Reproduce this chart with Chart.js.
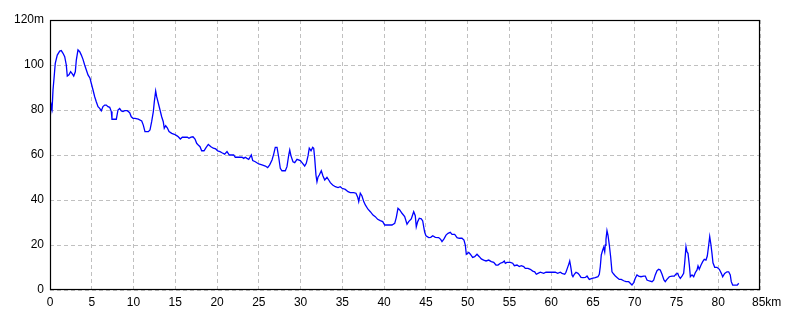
<!DOCTYPE html>
<html>
<head>
<meta charset="utf-8">
<script src="https://cdn.jsdelivr.net/npm/chart.js@4/dist/chart.umd.min.js"></script>
<style>
  html, body { margin: 0; padding: 0; background: #fff; }
  #wrap { width: 800px; height: 320px; }
</style>
</head>
<body>
<div id="wrap"><canvas id="myChart"></canvas></div>
<script>
// 거리 (km)
const distKm = [
  0, 0.16, 0.25, 0.36, 0.48, 0.63, 0.87, 1.16, 1.35, 1.56, 1.76, 1.95, 2.07, 2.27, 2.47, 2.63, 2.84, 3.03, 3.15, 3.35,
  3.56, 3.75, 3.95, 4.15, 4.35, 4.55, 4.79, 4.94, 5.15, 5.35, 5.54, 5.75, 5.95, 6.14, 6.34, 6.55, 6.74, 6.94, 7.15, 7.34,
  7.42, 7.94, 8.14, 8.34, 8.54, 8.74, 8.94, 9.25, 9.54, 9.73, 9.94, 10.18, 10.57, 10.98, 11.17, 11.37, 11.77, 11.97, 12.17, 12.37,
  12.49, 12.65, 12.77, 12.97, 13.17, 13.37, 13.56, 13.68, 13.85, 14.04, 14.25, 14.57, 14.88, 15.17, 15.36, 15.6, 15.84, 16.16, 16.44, 16.64,
  16.88, 17.12, 17.36, 17.56, 17.75, 17.96, 18.16, 18.44, 18.68, 18.95, 19.27, 19.55, 19.84, 20.08, 20.35, 20.59, 20.91, 21.19, 21.47, 21.99,
  22.18, 22.99, 23.19, 23.38, 23.58, 23.79, 24.1, 24.27, 24.58, 24.99, 25.38, 25.78, 26.06, 26.3, 26.58, 26.78, 26.97, 27.18, 27.38, 27.57,
  27.77, 28.17, 28.37, 28.58, 28.7, 28.85, 29.09, 29.3, 29.57, 29.97, 30.17, 30.49, 30.68, 30.89, 31.04, 31.25, 31.45, 31.57, 31.69, 31.84,
  31.96, 32.08, 32.24, 32.48, 32.68, 32.89, 33.16, 33.37, 33.56, 33.84, 34.16, 34.48, 34.75, 34.96, 35.35, 35.68, 35.95, 36.36, 36.63, 36.84,
  36.96, 37.15, 37.35, 37.56, 37.75, 38.07, 38.35, 38.67, 38.94, 39.23, 39.54, 39.83, 40.07, 40.55, 40.94, 41.27, 41.46, 41.66, 41.87, 42.14,
  42.46, 42.74, 42.94, 43.25, 43.54, 43.73, 43.85, 44.02, 44.21, 44.45, 44.62, 44.74, 44.86, 45.01, 45.34, 45.58, 45.82, 46.13, 46.53, 46.77,
  46.93, 47.17, 47.41, 47.65, 47.92, 48.13, 48.45, 48.73, 49.0, 49.32, 49.56, 49.72, 49.84, 50.13, 50.32, 50.6, 50.84, 51.12, 51.4, 51.63,
  51.92, 52.2, 52.52, 52.83, 53.12, 53.39, 53.63, 53.91, 54.2, 54.39, 54.51, 54.71, 55.11, 55.39, 55.59, 55.91, 56.18, 56.42, 56.71, 56.9,
  57.22, 57.5, 57.79, 58.03, 58.22, 58.42, 58.7, 59.1, 59.38, 59.7, 60.1, 60.49, 60.78, 61.09, 61.3, 61.62, 61.77, 61.93, 62.1, 62.22,
  62.34, 62.49, 62.61, 62.77, 62.97, 63.21, 63.37, 63.57, 63.81, 64.09, 64.29, 64.56, 64.89, 65.28, 65.6, 65.76, 65.88, 66.0, 66.17, 66.29,
  66.41, 66.48, 66.56, 66.68, 66.8, 66.96, 67.12, 67.28, 67.48, 67.68, 67.88, 68.15, 68.39, 68.68, 68.96, 69.28, 69.47, 69.67, 69.88, 70.07,
  70.27, 70.47, 70.75, 71.08, 71.27, 71.47, 71.75, 72.07, 72.27, 72.46, 72.67, 72.87, 73.06, 73.27, 73.5, 73.66, 73.86, 74.14, 74.46, 74.74,
  74.94, 75.15, 75.27, 75.46, 75.66, 75.86, 75.98, 76.14, 76.26, 76.38, 76.54, 76.66, 76.86, 77.06, 77.25, 77.46, 77.58, 77.73, 77.94, 78.14,
  78.33, 78.53, 78.69, 78.86, 78.98, 79.13, 79.25, 79.37, 79.58, 79.85, 80.13, 80.37, 80.53, 80.77, 81.05, 81.25, 81.44, 81.56, 81.73, 82.04,
  82.28, 82.45
];

// 표고 (m)
const elevM = [
  76, 82, 80.5, 88.9, 94, 100.7, 104.4, 106.2, 106.4, 105.2, 103.7, 100, 95.1, 95.6, 97, 96.3, 95.1, 97, 102.2, 106.7,
  105.9, 104.4, 102.5, 100, 97.8, 95.6, 94.1, 91.9, 88.9, 85.9, 83.7, 81.5, 80.7, 79.6, 81.5, 82.2, 82.2, 81.5, 81.2, 79.3,
  75.9, 75.9, 80, 80.7, 79.6, 79.3, 79.7, 79.7, 78.8, 77, 76.3, 76.3, 75.9, 75.1, 73.3, 70.4, 70.4, 71.1, 74.8, 79.3,
  83.7, 88.4, 85.9, 83, 80, 77, 74.8, 71.9, 73, 72.1, 70.4, 69.6, 69.2, 68.6, 68.1, 67.1, 67.9, 67.9, 67.9, 67.4,
  67.9, 68.1, 67.1, 65.2, 64.4, 63.7, 61.9, 61.9, 63.3, 64.7, 63.7, 63, 62.7, 61.8, 61.5, 61, 60.4, 61.5, 60, 60,
  59, 59, 58.5, 59, 58.5, 58.1, 60, 57.5, 57, 56, 55.6, 55.1, 54.4, 55.6, 57.8, 60.4, 63.4, 63.4, 59, 54.1,
  53, 53, 54.8, 60, 62.2, 59.6, 57, 56.6, 58.1, 57.5, 56.6, 55.1, 56.3, 59.6, 63, 61.9, 63.4, 63, 58.5, 51.1,
  48.1, 50.1, 51.1, 53, 50.7, 48.9, 50.1, 48.9, 47.7, 46.7, 45.9, 45.5, 45.9, 45.2, 44.7, 43.7, 43.3, 43.3, 43, 41.2,
  39.3, 43, 41.8, 39.3, 37.8, 35.9, 34.8, 33.3, 32.6, 31.4, 30.8, 30.4, 28.9, 28.9, 28.9, 29.6, 32.3, 36.3, 35.6, 34.1,
  32.6, 29.2, 30.4, 31.6, 34.8, 33, 28.1, 30.4, 31.9, 31.6, 30.7, 28.1, 25.6, 24.1, 23.3, 23.4, 24.1, 23.4, 23.3, 22.5,
  21.5, 22.7, 24.4, 25.2, 25.6, 24.7, 24.7, 23.3, 23, 23, 22.2, 20, 15.9, 16.7, 15.9, 14.5, 14.8, 15.9, 14.8, 13.8,
  13.3, 12.9, 13.3, 12.6, 12.3, 11.1, 11.1, 11.9, 12.3, 12.9, 11.9, 12.3, 12.3, 11.9, 10.8, 11.1, 10.4, 10.8, 10.4, 9.6,
  9.6, 9.2, 8.4, 8.1, 7, 7.4, 7.9, 7.4, 7.9, 7.9, 7.9, 7.9, 7.4, 7.9, 7.4, 7, 7.9, 9.6, 11.4, 12.9,
  10.4, 6.7, 5.9, 7, 7.9, 7.4, 6.7, 5.6, 5.5, 5.6, 6.2, 4.7, 5.2, 5.5, 5.9, 7, 10.4, 15.6, 17.8, 19,
  17, 20, 22.5, 26.4, 24.4, 20, 14.8, 8.1, 7.1, 6.2, 5.6, 4.7, 4.7, 4.1, 3.7, 3.7, 3, 2.2, 3.3, 5.2,
  6.7, 6.2, 5.9, 6.2, 6.2, 4.4, 4, 3.7, 4.4, 6.7, 8.6, 9.2, 8.9, 7, 4.5, 3.7, 4.7, 5.9, 6.2, 6.2,
  7.1, 7.4, 6.2, 5.2, 6.2, 7.4, 11.9, 19.3, 17, 16.3, 11.1, 5.9, 6.7, 5.9, 7.7, 8.9, 10.7, 9.2, 11.1, 12.6,
  13.6, 13.3, 15.1, 20, 23.7, 20, 16.3, 12.1, 10.1, 10.1, 9.2, 7.4, 5.9, 7.4, 8.1, 8.1, 6.7, 3.7, 2.2, 2.2,
  2.2, 3
];

// 축 범위
const xMax = 85;
const xStep = 5;
const yMax = 120;
const yStep = 20;

// 테두리 그리기
const frame = {
  id: "frame",
  afterDraw(chart) {
    const a = chart.chartArea;
    const c = chart.ctx;
    c.save();
    c.strokeStyle = "#000";
    c.lineWidth = 1.2;
    c.strokeRect(Math.round(a.left) + 0.5, Math.round(a.top) + 0.5, Math.round(a.right - a.left) - 1, Math.round(a.bottom - a.top) - 1);
    c.restore();
  },
};

const font = { family: "'Liberation Sans Narrow', 'Liberation Sans', sans-serif", size: 12 };

const ctx = document.getElementById("myChart").getContext("2d");
const myChart = new Chart(ctx, {
  type: "line",
  data: {
    datasets: [
      {
        data: distKm.map((d, i) => ({ x: d, y: elevM[i] })),
        borderColor: "#0000ff",
        borderWidth: 1.3,
        pointRadius: 0,
        tension: 0,
        fill: false,
      },
    ],
  },
  options: {
    responsive: true,
    maintainAspectRatio: false,
    animation: false,
    layout: { padding: { left: 0, top: 20, right: 40, bottom: 0 } },
    scales: {
      x: {
        type: "linear",
        min: 0,
        max: xMax,
        afterFit: (s) => { s.height = 30; },
        border: { display: false, dash: [4, 3] },
        grid: { color: "#c0c0c0", drawTicks: false },
        ticks: {
          stepSize: xStep,
          padding: 5,
          color: "#000",
          font: font,
          maxRotation: 0,
          autoSkip: false,
          callback: (v) => (v === xMax ? "    " + v + "km" : v), // 85km 살짝 오른쪽으로
        },
      },
      y: {
        min: 0,
        max: yMax,
        afterFit: (s) => { s.width = 50; },
        border: { display: false, dash: [4, 3] },
        grid: { color: "#c0c0c0", drawTicks: false },
        ticks: {
          stepSize: yStep,
          padding: 6,
          color: "#000",
          font: font,
          callback: (v) => (v === yMax ? v + "m" : v),
        },
      },
    },
    plugins: {
      legend: { display: false },
      tooltip: { enabled: false },
    },
  },
  plugins: [frame],
});
</script>
</body>
</html>
